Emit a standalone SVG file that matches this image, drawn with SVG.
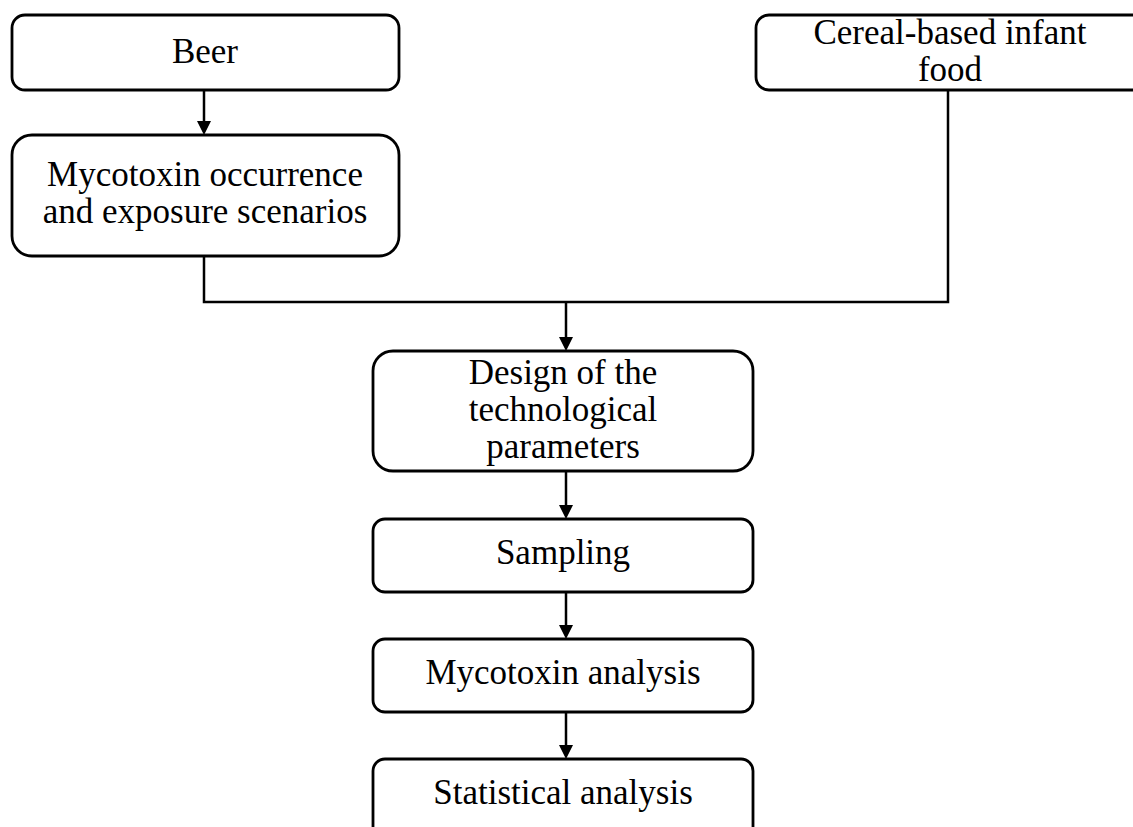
<svg xmlns="http://www.w3.org/2000/svg" width="1133" height="827" viewBox="0 0 1133 827">
<defs>
<style>
.box{fill:#fff;stroke:#000;stroke-width:2.8}
.lbl{font-family:"Liberation Serif","DejaVu Serif",serif;font-size:35px;fill:#000;text-anchor:middle}
.con{fill:none;stroke:#000;stroke-width:2.5}
.head{fill:#000;stroke:none}
</style>
</defs>
<rect width="1133" height="827" fill="#fff"/>
<g id="connectors">
<line class="con" x1="204" y1="90" x2="204" y2="123"/>
<polyline class="con" points="204,256 204,302 948,302 948,90"/>
<line class="con" x1="566" y1="302" x2="566" y2="339"/>
<line class="con" x1="566" y1="471" x2="566" y2="507"/>
<line class="con" x1="566" y1="592" x2="566" y2="627"/>
<line class="con" x1="566" y1="712" x2="566" y2="747"/>
<path class="head" d="M197,121 L211,121 L204,135 Z M559,337 L573,337 L566,351 Z M559,505 L573,505 L566,519 Z M559,625 L573,625 L566,639 Z M559,745 L573,745 L566,759 Z"/>
</g>
<g id="beer">
<rect class="box" x="12" y="15" width="387" height="75" rx="13"/>
<text class="lbl" x="205" y="63">Beer</text>
</g>
<g id="occurrence">
<rect class="box" x="12" y="135" width="387" height="121" rx="20"/>
<text class="lbl" x="205" y="186">Mycotoxin occurrence</text>
<text class="lbl" x="205" y="223">and exposure scenarios</text>
</g>
<g id="cereal">
<rect class="box" x="756" y="15" width="400" height="75" rx="13"/>
<text class="lbl" x="950" y="44">Cereal-based infant</text>
<text class="lbl" x="950" y="81">food</text>
</g>
<g id="design">
<rect class="box" x="373" y="351" width="380" height="120" rx="20"/>
<text class="lbl" x="563" y="384">Design of the</text>
<text class="lbl" x="563" y="421">technological</text>
<text class="lbl" x="563" y="458">parameters</text>
</g>
<g id="sampling">
<rect class="box" x="373" y="519" width="380" height="73" rx="12"/>
<text class="lbl" x="563" y="564">Sampling</text>
</g>
<g id="analysis">
<rect class="box" x="373" y="639" width="380" height="73" rx="12"/>
<text class="lbl" x="563" y="684">Mycotoxin analysis</text>
</g>
<g id="statistical">
<rect class="box" x="373" y="759" width="380" height="90" rx="12"/>
<text class="lbl" x="563" y="804">Statistical analysis</text>
</g>
</svg>
